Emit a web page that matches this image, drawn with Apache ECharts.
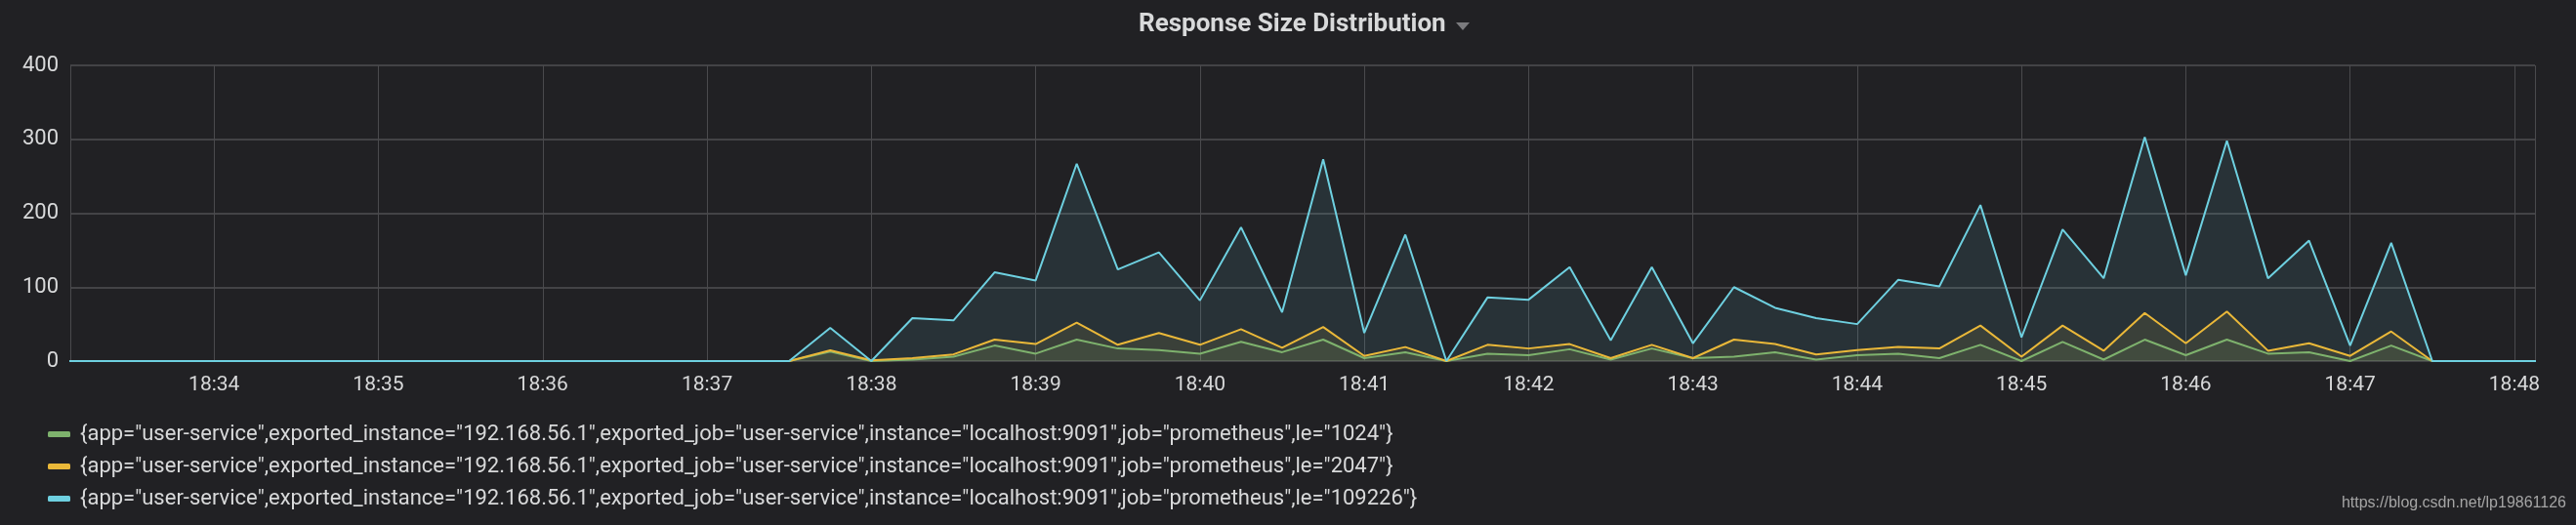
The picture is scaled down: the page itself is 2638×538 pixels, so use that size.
<!DOCTYPE html>
<html>
<head>
<meta charset="utf-8">
<script src="https://cdn.jsdelivr.net/npm/echarts@6/dist/echarts.min.js"></script>
<style>
html,body{margin:0;padding:0;background:#212124;}
#chart{width:2638px;height:538px;}
</style>
</head>
<body>
<div id="chart"></div>
<script>
const day = '2019-01-01';
const times = [
 '18:33:00','18:33:15','18:33:30','18:33:45',
 '18:34:00','18:34:15','18:34:30','18:34:45',
 '18:35:00','18:35:15','18:35:30','18:35:45',
 '18:36:00','18:36:15','18:36:30','18:36:45',
 '18:37:00','18:37:15','18:37:30','18:37:45',
 '18:38:00','18:38:15','18:38:30','18:38:45',
 '18:39:00','18:39:15','18:39:30','18:39:45',
 '18:40:00','18:40:15','18:40:30','18:40:45',
 '18:41:00','18:41:15','18:41:30','18:41:45',
 '18:42:00','18:42:15','18:42:30','18:42:45',
 '18:43:00','18:43:15','18:43:30','18:43:45',
 '18:44:00','18:44:15','18:44:30','18:44:45',
 '18:45:00','18:45:15','18:45:30','18:45:45',
 '18:46:00','18:46:15','18:46:30','18:46:45',
 '18:47:00','18:47:15','18:47:30','18:47:45',
 '18:48:00','18:48:15'
];
const seriesNames = [
 '{app="user-service",exported_instance="192.168.56.1",exported_job="user-service",instance="localhost:9091",job="prometheus",le="1024"}',
 '{app="user-service",exported_instance="192.168.56.1",exported_job="user-service",instance="localhost:9091",job="prometheus",le="2047"}',
 '{app="user-service",exported_instance="192.168.56.1",exported_job="user-service",instance="localhost:9091",job="prometheus",le="109226"}'
];
const le1024 = [
 0,0,0,0, 0,0,0,0, 0,0,0,0, 0,0,0,0, 0,0,
 0,13,0,2,6,21,10,29,17,15,
 10,26,12,29,4,12,0,10,8,16,
 2,17,4,6,12,2,8,10,4,22,
 0,26,2,29,8,29,10,12,0,21,
 0,0,0,0
];
const le2047 = [
 0,0,0,0, 0,0,0,0, 0,0,0,0, 0,0,0,0, 0,0,
 0,14.5,1,4,9,29,23,52,22,38,
 22,43,18,46,7,19,0,22,17,23,
 4,22,4,29,23,9,15,19,17,48,
 6,48,14,65,24,67,14,24,7,40,
 0,0,0,0
];
const le109226 = [
 0,0,0,0, 0,0,0,0, 0,0,0,0, 0,0,0,0, 0,0,
 0,45,0,58,55,120,109,267,124,147,
 82,181,66,273,38,171,0,86,83,127,
 28,127,24,100,72,58,50,110,101,211,
 32,178,112,303,116,298,112,163,21,160,
 0,0,0,0
];
const yTicks = [0, 100, 200, 300, 400];
const colors = ['#7eb26d', '#eab839', '#6ed0e0'];
const values = [le1024, le2047, le109226];

function pairs(arr){
  return times.map((t, i) => [day + 'T' + t, arr[i]]);
}
const tMin = new Date(day + 'T18:33:07.5').getTime();
const tMax = new Date(day + 'T18:48:07.5').getTime();

const chart = echarts.init(document.getElementById('chart'), null, {renderer: 'canvas'});
const font = 'Roboto, "Noto Sans", sans-serif';
chart.setOption({
  backgroundColor: '#212124',
  animation: false,
  title: {
    text: 'Response Size Distribution',
    left: 1161,
    top: 7,
    textStyle: {color: '#d8d9da', fontSize: 26, fontWeight: 'bold', fontFamily: font}
  },
  graphic: [
    {type: 'polygon', shape: {points: [[1491, 23], [1505, 23], [1498, 31]]}, style: {fill: '#7b7b7e'}},
    {type: 'text', right: 10, top: 508, style: {text: 'https://blog.csdn.net/lp19861126', fill: '#a5a5a5', font: '16px "Liberation Sans", Arial, sans-serif'}}
  ],
  legend: {
    orient: 'vertical',
    left: 44,
    top: 428,
    itemWidth: 23,
    itemHeight: 6,
    itemGap: 9,
    icon: 'roundRect',
    data: seriesNames.map((n, i) => ({name: n, itemStyle: {color: colors[i]}})),
    textStyle: {color: '#d8d9da', fontSize: 22, fontFamily: font, lineHeight: 24, padding: [0, 0, 0, 5]}
  },
  grid: {left: 72, right: 42, top: 67, bottom: 168, containLabel: false},
  xAxis: {
    type: 'time',
    min: tMin,
    max: tMax,
    minInterval: 60000,
    maxInterval: 60000,
    splitNumber: 15,
    axisLine: {show: false},
    axisTick: {show: false},
    axisLabel: {
      color: '#d8d9da', fontSize: 21, fontFamily: font, margin: 14,
      formatter: function(v){ const d = new Date(v); return String(d.getHours()).padStart(2,'0') + ':' + String(d.getMinutes()).padStart(2,'0'); }
    },
    splitLine: {show: true, lineStyle: {color: '#4a4a4d', width: 1}}
  },
  yAxis: {
    type: 'value',
    min: yTicks[0],
    max: yTicks[yTicks.length - 1],
    interval: 100,
    axisLine: {show: false},
    axisTick: {show: false},
    axisLabel: {color: '#d8d9da', fontSize: 22, fontFamily: font, margin: 12},
    splitLine: {show: true, lineStyle: {color: '#434346', width: 2}}
  },
  series: seriesNames.map((n, i) => ({
    name: n,
    type: 'line',
    data: pairs(values[i]),
    showSymbol: false,
    symbol: 'none',
    lineStyle: {color: colors[i], width: 2},
    itemStyle: {color: colors[i]},
    areaStyle: {color: colors[i], opacity: 0.1},
    clip: true
  }))
});
</script>
</body>
</html>
